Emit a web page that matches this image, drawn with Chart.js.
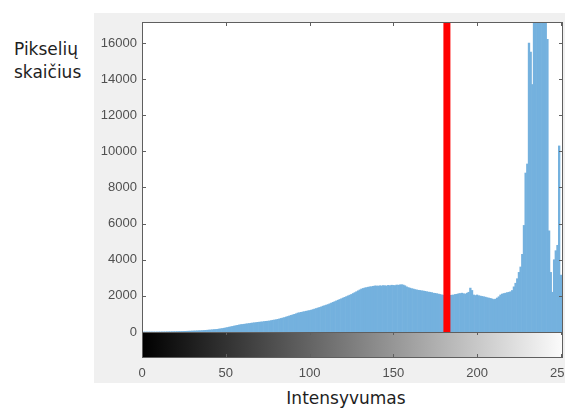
<!DOCTYPE html>
<html>
<head>
<meta charset="utf-8">
<script src="https://cdn.jsdelivr.net/npm/chart.js@4"></script>
<style>
  html, body { margin: 0; padding: 0; background: #fff; width: 565px; height: 408px; overflow: hidden; position: relative; }
  #panel { position: absolute; left: 94px; top: 13px; width: 490px; height: 370px; background: #f0f0f0; }
  .lab { position: absolute; font-family: "DejaVu Sans", Verdana, sans-serif; font-size: 17px; line-height: 23px; color: #1e1e1e; white-space: nowrap; }
</style>
</head>
<body>
<div class="lab" style="left:14px; top:38px;">Pikselių<br>skaičius</div>
<div id="panel"><canvas id="hist" width="490" height="370"></canvas></div>
<div class="lab" style="left:246px; top:387px; width:200px; text-align:center;">Intensyvumas</div>
<script>
// pixel counts for intensity 0..255 (234-241 run past the top)
const counts = [
  0, 0, 0, 0, 0, 0, 0, 0, 0, 0,
  2, 4, 5, 6, 8, 10, 12, 14, 16, 18,
  20, 22, 25, 28, 30, 34, 38, 42, 46, 50,
  54, 58, 62, 66, 70, 75, 80, 86, 92, 100,
  108, 116, 125, 134, 142, 150, 165, 180, 195, 210,
  230, 250, 270, 290, 310, 330, 350, 370, 390, 410,
  420, 430, 445, 460, 470, 485, 500, 510, 520, 535,
  545, 555, 565, 580, 590, 600, 610, 630, 650, 665,
  680, 700, 725, 750, 775, 800, 830, 860, 890, 920,
  950, 980, 1010, 1050, 1070, 1090, 1110, 1130, 1150, 1170,
  1190, 1210, 1240, 1270, 1300, 1330, 1360, 1390, 1430, 1460,
  1490, 1520, 1560, 1600, 1640, 1680, 1720, 1760, 1800, 1840,
  1880, 1920, 1960, 2000, 2040, 2080, 2130, 2180, 2230, 2280,
  2330, 2380, 2410, 2440, 2460, 2480, 2500, 2510, 2530, 2550,
  2550, 2540, 2560, 2550, 2570, 2560, 2550, 2580, 2560, 2590,
  2580, 2570, 2600, 2590, 2610, 2620, 2600, 2560, 2500, 2460,
  2430, 2400, 2380, 2350, 2330, 2310, 2300, 2280, 2270, 2250,
  2230, 2210, 2200, 2180, 2150, 2140, 2120, 2100, 2080, 2050,
  2040, 2030, 2020, 2010, 2030, 2040, 2050, 2080, 2090, 2120,
  2130, 2150, 2120, 2100, 2150, 2200, 2430, 2300, 2050, 2020,
  2050, 2010, 1990, 1970, 1950, 1930, 1900, 1880, 1860, 1830,
  1800, 1820, 1880, 1950, 2050, 2100, 2130, 2150, 2180, 2200,
  2230, 2300, 2500, 2700, 2950, 3300, 3600, 4300, 5900, 8800,
  9300, 16000, 15500, 13700, 18500, 22000, 25000, 23000, 20000, 18500,
  17800, 17500, 16200, 5600, 3300, 2200, 4000, 4500, 4800, 10300,
  3150, 0, 0, 0, 0, 0
];
const thresholdValue = 182;
const xTicks = [0, 50, 100, 150, 200, 250];
const yTicks = [0, 2000, 4000, 6000, 8000, 10000, 12000, 14000, 16000];
const xMax = 251.3;
const yMax = 17160;

const histPoints = counts.map((c, i) => ({ x: i, y: c }));
const tickFont = { family: "'Liberation Sans', Arial, sans-serif", size: 13 };
const tickColor = "#505050";

// white plot area, colorbar under the axes, box and inward tick marks like matlab
const matlabAxes = {
  id: "matlabAxes",
  beforeDatasetsDraw(chart) {
    const { ctx, chartArea: a } = chart;
    ctx.save();
    ctx.fillStyle = "#fff";
    ctx.fillRect(a.left, a.top, a.right - a.left, a.bottom - a.top);
    ctx.restore();
  },
  afterDatasetsDraw(chart) {
    const { ctx, chartArea: a, scales: { x, y } } = chart;
    const cbH = 25;
    ctx.save();
    const g = ctx.createLinearGradient(x.getPixelForValue(0), 0, x.getPixelForValue(255), 0);
    g.addColorStop(0, "#000");
    g.addColorStop(1, "#fff");
    ctx.fillStyle = g;
    ctx.fillRect(a.left, a.bottom, a.right - a.left, cbH);

    ctx.strokeStyle = "#5f5f5f";
    ctx.lineWidth = 1;
    const l = Math.round(a.left) + 0.5, t = Math.round(a.top) + 0.5;
    const w = Math.round(a.right - a.left) - 1, b = Math.round(a.bottom) + 0.5;
    ctx.strokeRect(l, t, w, b - t);
    ctx.strokeRect(l, b, w, cbH);

    ctx.beginPath();
    xTicks.forEach(v => {
      const px = Math.round(x.getPixelForValue(v)) + 0.5;
      ctx.moveTo(px, a.top); ctx.lineTo(px, a.top + 4);
      ctx.moveTo(px, a.bottom); ctx.lineTo(px, a.bottom + 3);
      ctx.moveTo(px, a.bottom + cbH); ctx.lineTo(px, a.bottom + cbH - 3);
    });
    yTicks.forEach(v => {
      const py = Math.round(y.getPixelForValue(v)) + 0.5;
      ctx.moveTo(a.left, py); ctx.lineTo(a.left + 4, py);
      ctx.moveTo(a.right, py); ctx.lineTo(a.right - 4, py);
    });
    ctx.stroke();
    ctx.restore();
  }
};

new Chart(document.getElementById("hist"), {
  data: {
    datasets: [
      {
        type: "line",
        data: [{ x: thresholdValue, y: 0 }, { x: thresholdValue, y: yMax }],
        borderColor: "rgb(255,0,0)",
        borderWidth: 7,
        pointRadius: 0,
        order: 0
      },
      {
        type: "bar",
        data: histPoints,
        backgroundColor: "rgb(116,177,222)",
        borderWidth: 0,
        barPercentage: 1,
        categoryPercentage: 1,
        order: 1
      }
    ]
  },
  options: {
    responsive: false,
    devicePixelRatio: 1,
    animation: false,
    layout: { padding: { top: 9, right: 21, left: 0, bottom: 0 } },
    plugins: { legend: { display: false }, tooltip: { enabled: false } },
    scales: {
      x: {
        type: "linear",
        min: 0,
        max: xMax,
        offset: false,
        grid: { display: false, drawTicks: true, tickLength: 34 },
        border: { display: false },
        ticks: { padding: 0, font: tickFont, color: tickColor, maxRotation: 0, callback: v => String(v) },
        afterBuildTicks: s => { s.ticks = xTicks.map(v => ({ value: v })); },
        afterFit: s => { s.height = 51; }
      },
      y: {
        min: 0,
        max: yMax,
        grid: { display: false, drawTicks: true, tickLength: 5 },
        border: { display: false },
        ticks: { padding: 0, font: tickFont, color: tickColor, callback: v => String(v) },
        afterBuildTicks: s => { s.ticks = yTicks.map(v => ({ value: v })); },
        afterFit: s => { s.width = 48; }
      }
    }
  },
  plugins: [matlabAxes]
});
</script>
</body>
</html>
